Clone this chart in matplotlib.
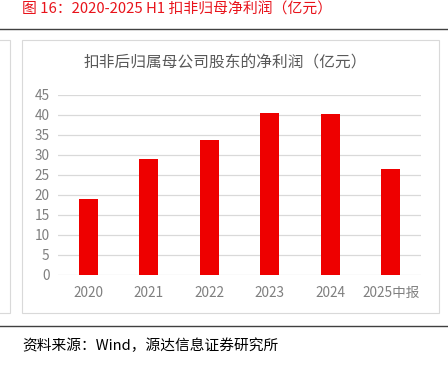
import matplotlib.pyplot as plt
from matplotlib.lines import Line2D
from matplotlib.patches import Rectangle

plt.rcParams['font.family'] = ['Noto Sans CJK SC', 'DejaVu Sans']

categories = ["2020", "2021", "2022", "2023", "2024", "2025中报"]
profit = [19.0, 29.1, 33.8, 40.6, 40.3, 26.6]
yticks = [0, 5, 10, 15, 20, 25, 30, 35, 40, 45]

W, H = 448, 367
fig = plt.figure(figsize=(W / 100, H / 100), dpi=100)

# page decorations (pixel coords converted to figure fractions)
def fx(x):
    return x / W

def fy(y):
    return 1 - y / H

fig.text(fx(22), fy(10), "图 16：2020-2025 H1 扣非归母净利润（亿元）", color="#e8131b",
         fontsize=10.7, ha="left", va="center")
fig.add_artist(Line2D([0, 1], [fy(29), fy(29)], color="#404040", lw=1.0))
fig.add_artist(Line2D([0, 1], [fy(326), fy(326)], color="#404040", lw=1.0))
fig.add_artist(Rectangle((fx(-5), fy(313)), fx(15), fy(40) - fy(313), fill=False,
                         edgecolor="#d9d9d9", lw=0.8))
fig.add_artist(Rectangle((fx(22), fy(313)), fx(417), fy(40) - fy(313), fill=False,
                         edgecolor="#d9d9d9", lw=0.8))
fig.text(fx(22), fy(346), "资料来源：Wind，源达信息证券研究所", color="#000000",
         fontsize=10.6, ha="left", va="center")
fig.text(fx(225), fy(63), "扣非后归属母公司股东的净利润（亿元）", color="#595959",
         fontsize=11.3, ha="center", va="center")

ax = fig.add_axes([fx(58), fy(275), (421 - 58) / W, (275 - 95) / H])
x = range(len(categories))
ax.bar(x, profit, width=0.32, color="#ee0000", zorder=3)
ax.set_xlim(-0.5, len(categories) - 0.5)
ax.set_ylim(0, 45)
ax.set_yticks(yticks)
ax.set_xticks(list(x))
ax.set_xticklabels(categories)
ax.grid(axis="y", color="#d9d9d9", lw=0.9, zorder=0)
for s in ax.spines.values():
    s.set_visible(False)
ax.tick_params(length=0, labelsize=9.8, labelcolor="#7f7f7f", pad=6)
ax.tick_params(axis="x", pad=8)

fig.savefig("out.png", dpi=100)
